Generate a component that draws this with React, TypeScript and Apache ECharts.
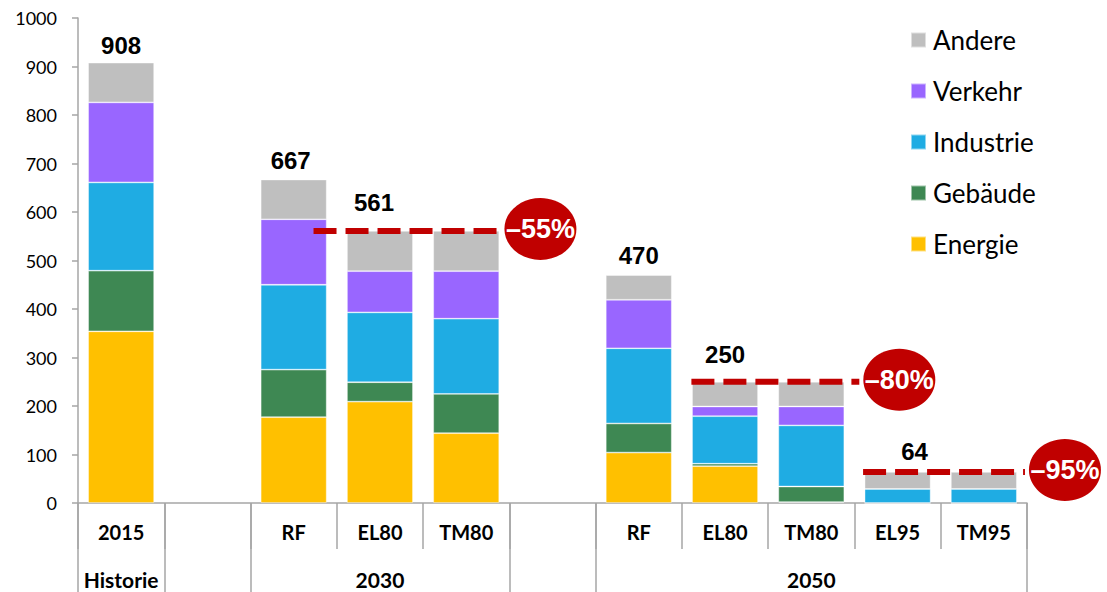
import React, { useEffect, useRef } from "react";
import * as echarts from "echarts";

const categories = ["2015", "", "RF", "EL80", "TM80", "", "RF", "EL80", "TM80", "EL95", "TM95"];
const groupLabels = ["Historie", "", "", "2030", "", "", "", "", "2050", "", ""];
const groupBoundaryTicks = [0, 1, 2, 5, 6];

const energie = [354, null, 177, 209, 144, null, 104, 76, 2, 0, 0];
const gebaeude = [125, null, 98, 40, 81, null, 60, 5, 32, 0, 0];
const industrie = [182, null, 175, 144, 155, null, 155, 98, 126, 29, 29];
const verkehr = [165, null, 135, 85, 98, null, 100, 20, 39, 0, 0];
const andere = [82, null, 82, 83, 83, null, 51, 51, 51, 35, 35];

const seriesNames = ["Energie", "Gebäude", "Industrie", "Verkehr", "Andere"];
const seriesColors = ["#FFC000", "#3E8853", "#1FACE3", "#9966FF", "#BFBFBF"];
const legendOrder = ["Andere", "Verkehr", "Industrie", "Gebäude", "Energie"];

// which totals are labelled, with extra offsets (px)
const totalLabelIdx = [0, 2, 3, 6, 7, 9];
const totalLabelShiftX = [0, -3, -6, 0, 0, 17];
const totalLabelLift = [0, -2, -11, -3, -10, -3];

// reduction annotations: reference category (total), line start/ellipse positions in band units
const reductions = [
  { text: "\u201355%", refIdx: 3, startIdx: 2, startOff: 0.23, ellIdx: 4, ellOff: 0.86 },
  { text: "\u201380%", refIdx: 7, startIdx: 7, startOff: -0.39, ellIdx: 8, ellOff: 1.02 },
  { text: "\u201395%", refIdx: 9, startIdx: 9, startOff: -0.4, ellIdx: 10, ellOff: 0.94 },
];

const seriesData = [energie, gebaeude, industrie, verkehr, andere];

function totalAt(i: number): number {
  return seriesData.reduce((s, arr) => s + ((arr[i] as number) || 0), 0);
}

export default function App() {
  const ref = useRef<HTMLDivElement>(null);
  useEffect(() => {
    if (!ref.current) return;
    const chart = echarts.init(ref.current, null, { renderer: "svg" });
    const axisGray = "#A6A6A6";
    const calFont = "Lato, 'Open Sans', sans-serif";

    const series: any[] = seriesData.map((arr, si) => {
      const isTop = si === seriesData.length - 1;
      return {
        name: seriesNames[si],
        type: "bar",
        stack: "total",
        xAxisIndex: 0,
        yAxisIndex: 0,
        barCategoryGap: "23.5%",
        itemStyle: {
          color: seriesColors[si],
          borderColor: "rgba(255,255,255,0.5)",
          borderWidth: 0.8,
        },
        data: arr.map((v, i) => {
          if (!isTop) return v;
          const li = totalLabelIdx.indexOf(i);
          if (li < 0) return v;
          return {
            value: v,
            label: {
              show: true,
              position: "top",
              distance: 5,
              offset: [totalLabelShiftX[li], totalLabelLift[li]],
              formatter: () => String(totalAt(i)),
              fontFamily: "'Liberation Sans', Arial, sans-serif",
              fontWeight: "bold",
              fontSize: 24,
              color: "#000",
            },
          };
        }),
      };
    });

    chart.setOption({
      animation: false,
      backgroundColor: "#fff",
      grid: { left: 78, right: 80, top: 18, bottom: 89, containLabel: false },
      legend: {
        data: legendOrder,
        orient: "vertical",
        left: 910,
        top: 25,
        padding: 0,
        icon: "rect",
        itemWidth: 15,
        itemHeight: 15,
        itemGap: 21,
        textStyle: { fontFamily: calFont, fontSize: 26, color: "#000", lineHeight: 30, padding: [0, 0, 0, 2] },
      },
      xAxis: [
        {
          type: "category",
          data: categories,
          position: "bottom",
          axisLine: { show: true, lineStyle: { color: axisGray, width: 1.5 } },
          axisTick: { show: true, interval: 0, length: 46, lineStyle: { color: axisGray, width: 1.5 } },
          axisLabel: {
            interval: 0,
            margin: 19,
            fontFamily: calFont,
            fontWeight: "bold",
            fontSize: 20,
            color: "#000",
          },
        },
        {
          type: "category",
          data: groupLabels,
          position: "bottom",
          axisLine: { show: false },
          axisTick: {
            show: true,
            length: 89,
            interval: (idx: number) => groupBoundaryTicks.indexOf(idx) >= 0,
            lineStyle: { color: axisGray, width: 1.5 },
          },
          axisLabel: {
            interval: 0,
            margin: 66,
            fontFamily: calFont,
            fontWeight: "bold",
            fontSize: 21,
            color: "#000",
          },
        },
      ],
      yAxis: {
        type: "value",
        min: 0,
        max: 1000,
        interval: 100,
        axisLine: { show: true, lineStyle: { color: axisGray, width: 1.5 } },
        axisTick: { show: true, length: 6, lineStyle: { color: axisGray, width: 1.5 } },
        splitLine: { show: false },
        axisLabel: {
          margin: 21,
          fontFamily: calFont,
          fontSize: 18,
          color: "#000",
          formatter: (v: number) => String(v),
        },
      },
      series,
    });

    const px = (idx: number, v: number) =>
      chart.convertToPixel({ xAxisIndex: 0, yAxisIndex: 0 }, [idx, v]) as number[];
    const band = px(1, 0)[0] - px(0, 0)[0];
    const graphics: any[] = [];
    reductions.forEach((r) => {
      const total = totalAt(r.refIdx);
      const y = px(r.refIdx, total)[1];
      const x1 = px(r.startIdx, total)[0] + r.startOff * band;
      const cx = px(r.ellIdx, total)[0] + r.ellOff * band;
      const rx = 36;
      const ry = 31;
      graphics.push({
        type: "line",
        shape: { x1, y1: y, x2: cx - rx - 4, y2: y },
        style: { stroke: "#C00000", lineWidth: 6, lineDash: [23, 9] },
        z: 10,
      });
      graphics.push({
        type: "ellipse",
        shape: { cx, cy: y - 2, rx, ry },
        style: { fill: "#C00000" },
        z: 11,
      });
      graphics.push({
        type: "text",
        x: cx,
        y: y - 2,
        style: {
          text: r.text,
          fill: "#fff",
          font: "bold 27px 'Liberation Sans', Arial, sans-serif",
          align: "center",
          verticalAlign: "middle",
          textAlign: "center",
          textVerticalAlign: "middle",
        },
        z: 12,
      });
    });
    chart.setOption({ graphic: graphics });

    return () => chart.dispose();
  }, []);
  return (
    <div
      ref={ref}
      style={{ position: "fixed", left: 0, top: 0, width: 1107, height: 592, background: "#fff" }}
    />
  );
}
